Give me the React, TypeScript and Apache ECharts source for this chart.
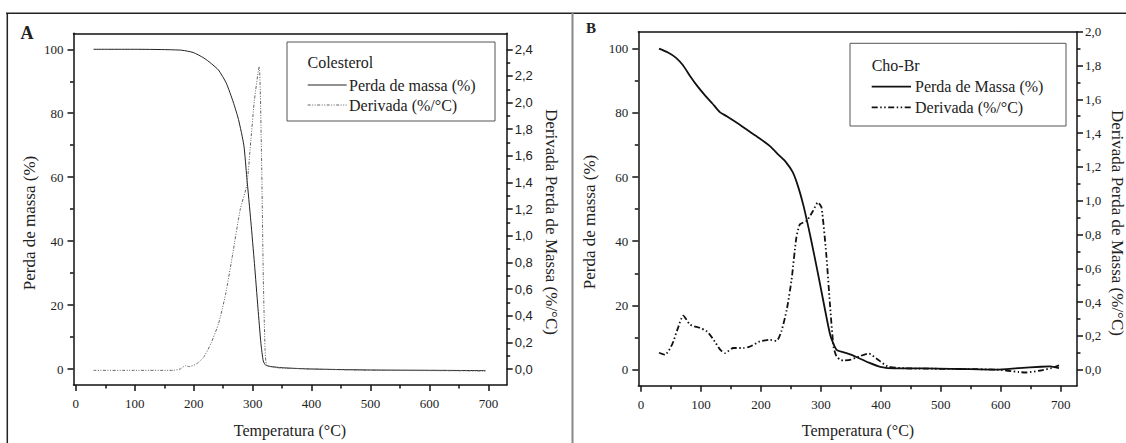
import React, { useEffect, useRef } from "react";
import * as echarts from "echarts";

// ---------- tick values ----------
const xTicks = [0, 100, 200, 300, 400, 500, 600, 700];
const xMinor = [50, 150, 250, 350, 450, 550, 650];
const massTicks = [0, 20, 40, 60, 80, 100];
const massMinor = [10, 30, 50, 70, 90];
const derivTicksA = [0, 0.2, 0.4, 0.6, 0.8, 1.0, 1.2, 1.4, 1.6, 1.8, 2.0, 2.2, 2.4];
const derivMinorA = [0.1, 0.3, 0.5, 0.7, 0.9, 1.1, 1.3, 1.5, 1.7, 1.9, 2.1, 2.3];
const derivTicksB = [0, 0.2, 0.4, 0.6, 0.8, 1.0, 1.2, 1.4, 1.6, 1.8, 2.0];
const derivMinorB = [0.1, 0.3, 0.5, 0.7, 0.9, 1.1, 1.3, 1.5, 1.7, 1.9];

// ---------- Panel A: Colesterol ----------
const tempMassA = [30, 100, 150, 180, 199, 217, 230, 242, 255, 267, 276, 285, 290, 297, 303, 309, 314, 318, 322, 330, 350, 400, 500, 600, 695];
const massA = [100, 100, 99.9, 99.7, 99, 97.3, 95.5, 93.5, 89.5, 83.5, 78, 70, 60, 46, 33, 19, 8, 2.5, 1.2, 0.8, 0.4, 0, -0.3, -0.4, -0.5];
const tempDerivA = [30, 100, 165, 177, 186, 193, 205, 217, 229, 242, 254, 266, 279, 290, 297, 303, 311, 315, 318, 321, 324, 340, 400, 500, 600, 695];
const derivA = [-0.01, -0.01, -0.01, 0.0, 0.025, 0.018, 0.04, 0.09, 0.19, 0.34, 0.56, 0.86, 1.2, 1.38, 1.72, 2.02, 2.27, 1.6, 0.7, 0.15, 0.03, 0.01, 0.0, -0.01, -0.012, -0.015];

// ---------- Panel B: Cho-Br ----------
const tempMassB = [30, 45, 58, 70, 82, 94, 106, 119, 131, 143, 167, 182, 198, 215, 230, 241, 253, 262, 271, 283, 295, 307, 316, 326, 338, 350, 362, 380, 399, 423, 472, 533, 593, 630, 667, 682, 697];
const massB = [100, 98.8, 97.2, 94.8, 91.4, 88.3, 85.6, 82.9, 80.3, 78.9, 76, 74, 72, 69.6, 66.8, 64.8, 61.5, 57, 51, 41, 30, 18.5, 10.5, 6.2, 5.4, 4.7, 3.7, 2.2, 0.9, 0.4, 0.4, 0.2, 0, 0.5, 0.9, 1.0, 0.5];
const tempDerivB = [30, 40, 52, 61, 70.5, 82, 98, 110, 121, 132, 140, 154, 171, 182, 198, 215, 226, 234, 243, 251, 259, 265, 276, 287, 295, 301, 309, 315, 321, 326, 332, 338, 350, 365, 380, 393, 411, 440, 472, 530, 593, 630, 642, 666, 685, 697];
const derivB = [0.1, 0.088, 0.15, 0.24, 0.32, 0.266, 0.247, 0.226, 0.177, 0.118, 0.098, 0.128, 0.128, 0.137, 0.167, 0.177, 0.17, 0.226, 0.354, 0.53, 0.78, 0.86, 0.88, 0.94, 0.99, 0.96, 0.68, 0.39, 0.137, 0.078, 0.059, 0.055, 0.06, 0.08, 0.095, 0.065, 0.02, 0.008, 0.006, 0.004, 0, -0.014, -0.017, -0.005, 0.01, 0.025];

const zip = (xs: number[], ys: number[]) => xs.map((x, i) => [x, ys[i]]);

const SERIF = "Liberation Serif";
const SANS = "Liberation Sans";
const AX = "#111";
const TXT = "#222";

const comma = (v: number) => v.toFixed(1).replace(".", ",");

function xAxesFor(gridIndex: number, min: number, max: number) {
  const ls = { color: AX, width: 1.5 };
  return [
    {
      type: "value", gridIndex, min, max, position: "bottom",
      axisLine: { show: true, onZero: false, lineStyle: ls },
      axisTick: { show: true, length: 6, customValues: xTicks, lineStyle: ls },
      axisLabel: { show: true, customValues: xTicks, fontFamily: SERIF, fontSize: 13, color: TXT, margin: 12 },
      splitLine: { show: false },
    },
    {
      type: "value", gridIndex, min, max, position: "bottom",
      axisLine: { show: false, onZero: false },
      axisTick: { show: true, length: 3.5, customValues: xMinor, lineStyle: ls },
      axisLabel: { show: false },
      splitLine: { show: false },
    },
    {
      type: "value", gridIndex, min, max, position: "top",
      axisLine: { show: true, onZero: false, lineStyle: ls },
      axisTick: { show: false },
      axisLabel: { show: false },
      splitLine: { show: false },
    },
  ];
}

function yAxesFor(
  gridIndex: number,
  lmin: number, lmax: number,
  rmin: number, rmax: number,
  rTicks: number[], rMinor: number[], rFont: string
) {
  const ls = { color: AX, width: 1.5 };
  return [
    {
      type: "value", gridIndex, min: lmin, max: lmax, position: "left",
      axisLine: { show: true, onZero: false, lineStyle: ls },
      axisTick: { show: true, length: 6, customValues: massTicks, lineStyle: ls },
      axisLabel: { show: true, customValues: massTicks, fontFamily: SERIF, fontSize: 13, color: TXT, margin: 10 },
      splitLine: { show: false },
    },
    {
      type: "value", gridIndex, min: lmin, max: lmax, position: "left",
      axisLine: { show: false, onZero: false },
      axisTick: { show: true, length: 3.5, customValues: massMinor, lineStyle: ls },
      axisLabel: { show: false },
      splitLine: { show: false },
    },
    {
      type: "value", gridIndex, min: rmin, max: rmax, position: "right",
      axisLine: { show: true, onZero: false, lineStyle: ls },
      axisTick: { show: true, length: 6, customValues: rTicks, lineStyle: ls },
      axisLabel: {
        show: true, customValues: rTicks, fontFamily: rFont, fontSize: 13, color: TXT, margin: 8,
        formatter: (v: number) => comma(v),
      },
      splitLine: { show: false },
    },
    {
      type: "value", gridIndex, min: rmin, max: rmax, position: "right",
      axisLine: { show: false, onZero: false },
      axisTick: { show: true, length: 3.5, customValues: rMinor, lineStyle: ls },
      axisLabel: { show: false },
      splitLine: { show: false },
    },
  ];
}

function txt(text: string, x: number, y: number, size: number, opts: any = {}) {
  return {
    type: "text", x, y, rotation: opts.rotation || 0, z: 20,
    style: {
      text, fontSize: size, fontFamily: SERIF, fill: TXT,
      fontWeight: opts.bold ? "bold" : "normal",
      align: opts.align || "center", verticalAlign: "middle",
    },
  };
}

function hline(x1: number, y1: number, x2: number, y2: number, stroke: string, lw: number, dash?: number[]) {
  return {
    type: "line", z: 20,
    shape: { x1, y1, x2, y2 },
    style: { stroke, lineWidth: lw, lineDash: dash || null },
  };
}

const DASH_A = [3, 1.5, 1, 1.5, 1, 1.5];
const DASH_B = [6, 2.5, 1.5, 2.5, 1.5, 2.5];

export default function App() {
  const ref = useRef<HTMLDivElement>(null);

  useEffect(() => {
    if (!ref.current) return;
    const chart = echarts.init(ref.current, null, { renderer: "svg" });

    const option = {
      animation: false,
      backgroundColor: "#fff",
      textStyle: { fontFamily: SERIF },
      grid: [
        { left: 73.5, top: 33.3, width: 433.2, height: 351.7 },
        { left: 638.3, top: 31.7, width: 438.7, height: 354 },
      ],
      xAxis: [...xAxesFor(0, -4, 731), ...xAxesFor(1, -4.5, 727)],
      yAxis: [
        ...yAxesFor(0, -5, 105, -0.12, 2.52, derivTicksA, derivMinorA, SANS),
        ...yAxesFor(1, -5, 105.26, -0.095, 2.0, derivTicksB, derivMinorB, SERIF),
      ],
      series: [
        {
          name: "Perda de massa (%)", type: "line", xAxisIndex: 0, yAxisIndex: 0,
          data: zip(tempMassA, massA), showSymbol: false, symbol: "none", smooth: 0.2,
          lineStyle: { color: "#222", width: 1 }, z: 3,
        },
        {
          name: "Derivada (%/°C)", type: "line", xAxisIndex: 0, yAxisIndex: 2,
          data: zip(tempDerivA, derivA), showSymbol: false, symbol: "none", smooth: 0.2,
          lineStyle: { color: "#666", width: 1, type: DASH_A }, z: 3,
        },
        {
          name: "Perda de Massa (%)", type: "line", xAxisIndex: 3, yAxisIndex: 4,
          data: zip(tempMassB, massB), showSymbol: false, symbol: "none", smooth: 0.2,
          lineStyle: { color: "#111", width: 1.8 }, z: 3,
        },
        {
          name: "Derivada (%/°C) B", type: "line", xAxisIndex: 3, yAxisIndex: 6,
          data: zip(tempDerivB, derivB), showSymbol: false, symbol: "none", smooth: 0.2,
          lineStyle: { color: "#111", width: 1.8, type: DASH_B }, z: 3,
        },
      ],
      graphic: [
        // outer frame
        hline(6, 13.3, 1126, 13.3, "#222", 1.5),
        hline(7.3, 13, 7.3, 443, "#222", 1.5),
        hline(572.5, 13, 572.5, 443, "#888", 2),
        // panel letters
        txt("A", 27, 33, 18, { bold: true }),
        txt("B", 591, 28, 15, { bold: true }),
        // axis titles A
        txt("Perda de massa (%)", 29, 223, 17, { rotation: Math.PI / 2 }),
        txt("Derivada Perda de Massa (%/°C)", 551, 222, 17, { rotation: -Math.PI / 2 }),
        txt("Temperatura (°C)", 290, 430, 16),
        // axis titles B
        txt("Perda de massa (%)", 589, 222, 17, { rotation: Math.PI / 2 }),
        txt("Derivada Perda de Massa (%/°C)", 1117, 223, 17, { rotation: -Math.PI / 2 }),
        txt("Temperatura (°C)", 858, 430, 16),
        // legend A
        {
          type: "rect", z: 15, shape: { x: 287, y: 42, width: 208, height: 79 },
          style: { fill: "#fff", stroke: "#555", lineWidth: 1 },
        },
        txt("Colesterol", 307.5, 62.7, 16, { align: "left" }),
        hline(307.7, 85, 346.7, 85, "#222", 1),
        txt("Perda de massa (%)", 349, 85, 16, { align: "left" }),
        hline(307.7, 105, 346.7, 105, "#666", 1, DASH_A),
        txt("Derivada (%/°C)", 349, 105, 16, { align: "left" }),
        // legend B
        {
          type: "rect", z: 15, shape: { x: 850, y: 43.3, width: 216, height: 82.7 },
          style: { fill: "#fff", stroke: "#555", lineWidth: 1 },
        },
        txt("Cho-Br", 871.7, 65, 16, { align: "left" }),
        hline(871.7, 86.7, 911, 86.7, "#111", 1.8),
        txt("Perda de Massa (%)", 915, 86.7, 16, { align: "left" }),
        hline(871.7, 107.3, 911, 107.3, "#111", 1.8, DASH_B),
        txt("Derivada (%/°C)", 915, 107.3, 16, { align: "left" }),
      ],
    };

    chart.setOption(option as any);
    return () => chart.dispose();
  }, []);

  return (
    <div
      ref={ref}
      style={{ position: "absolute", left: 0, top: 0, width: 1126, height: 443, background: "#fff" }}
    />
  );
}
